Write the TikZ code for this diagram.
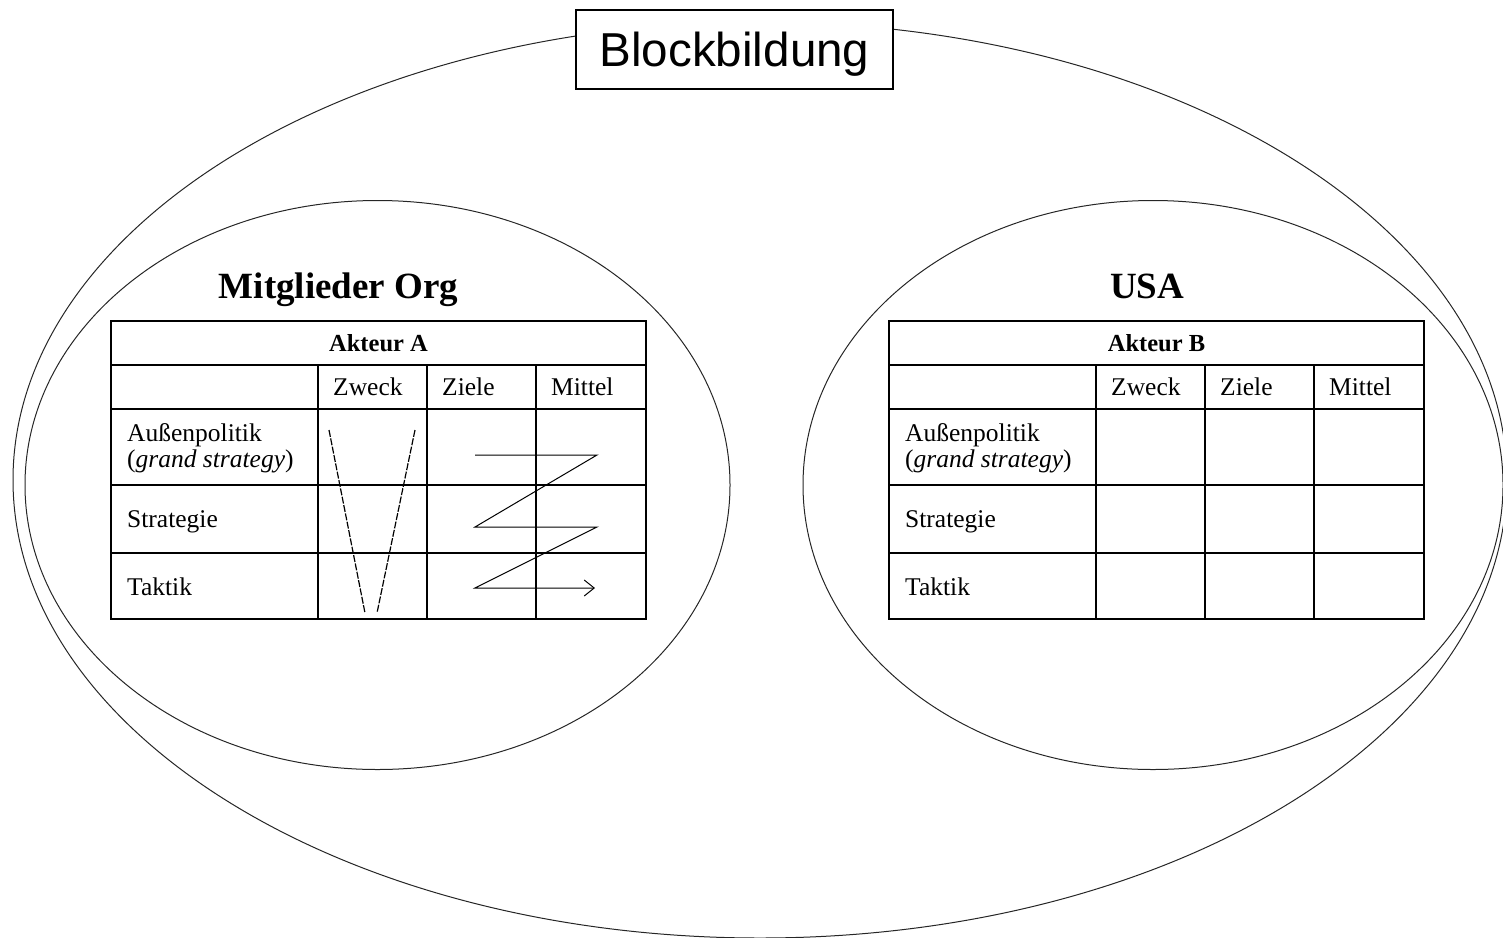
\documentclass[tikz,border=0pt]{standalone}
\usepackage{fontspec}
\setmainfont{Liberation Serif}
\setsansfont{Liberation Sans}
\usetikzlibrary{arrows.meta}

\begin{document}
\begin{tikzpicture}
[x=1pt,y=-1pt,
 rim/.style={line width=1pt, draw=black!85},
 grid/.style={line width=1.4pt},
 txt/.style={inner sep=0pt, anchor=base west, font=\fontsize{25.5}{28}\selectfont},
 head/.style={inner sep=0pt, anchor=base, font=\bfseries\fontsize{24.5}{28}\selectfont},
 title/.style={inner sep=0pt, anchor=base, font=\bfseries\fontsize{37}{40}\selectfont},
 vline/.style={line width=1.2pt, dash pattern=on 7pt off 1.5pt},
 zig/.style={line width=1pt}]
\useasboundingbox (0,0) rectangle (1503,937);
% the three ellipses
\draw[rim] (760,480) ellipse [x radius=747, y radius=458];
\draw[rim] (377.5,485) ellipse [x radius=352.5, y radius=284.5];
\draw[rim] (1153,485) ellipse [x radius=350, y radius=284.5];
\node[draw, line width=1.4pt, fill=white, inner sep=0pt, minimum width=317pt, minimum height=79pt,
      text depth=0pt, font=\sffamily\fontsize{47.6}{50}\selectfont] (block) at (734.5,49.5) {Blockbildung};
\node[title] (org) at (338.5,298) {Mitglieder Org};
\node[title] (usa) at (1147,298) {USA};
% both tables
\foreach \dx/\akt in {0/A, 778/B} {
\begin{scope}[xshift=\dx pt]
\draw[grid] (111,321) rectangle (646,619);
\foreach \y in {365,409,485,553} \draw[grid] (111,\y) -- (646,\y);
\foreach \x in {318,427,536} \draw[grid] (\x,365) -- (\x,619);
\node[head] (akteur\akt) at (378.5,351) {Akteur \akt};
\node[txt] (zweck\akt) at (333,395) {Zweck};
\node[txt] (ziele\akt) at (442,395) {Ziele};
\node[txt] (mittel\akt) at (551,395) {Mittel};
\node[txt] (aussen\akt) at (127,441) {Außenpolitik};
\node[txt] (grand\akt) at (127,467) {(\textit{grand strategy})};
\node[txt] (strat\akt) at (127,527) {Strategie};
\node[txt] (taktik\akt) at (127,595) {Taktik};
\end{scope}
}
% V in Zweck column
\coordinate (va) at (329,430);
\coordinate (vb) at (365,613);
\coordinate (vc) at (415,430);
\coordinate (vd) at (377,613);
\draw[vline] (va) -- (vb);
\draw[vline] (vc) -- (vd);
% zigzag through Ziele and Mittel
\coordinate (z1) at (475,455);
\coordinate (z2) at (597,455);
\coordinate (z3) at (475,527);
\coordinate (z4) at (597,527);
\coordinate (z5) at (475,588);
\coordinate (z6) at (595,588);
\draw[zig, -{Straight Barb[length=10pt,width=16pt]}] (z1) -- (z2) -- (z3) -- (z4) -- (z5) -- (z6);
\end{tikzpicture}
\end{document}
